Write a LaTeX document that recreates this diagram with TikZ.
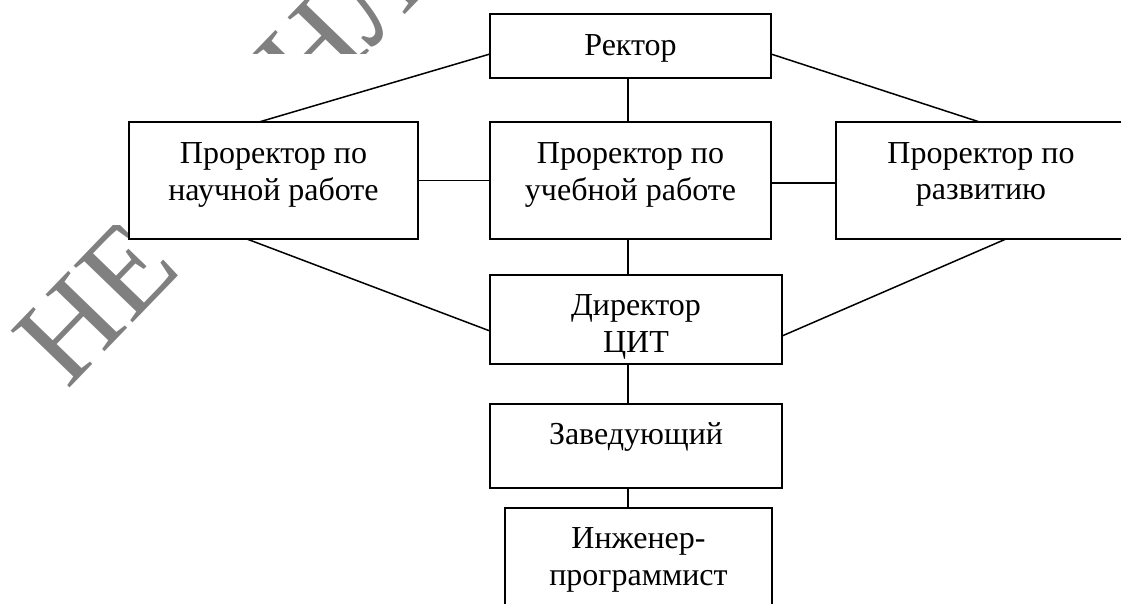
\documentclass[tikz,border=0pt]{standalone}
\usepackage{fontspec}
\setmainfont{Liberation Serif}
\usetikzlibrary{calc}
\definecolor{wmgrey}{gray}{0.5}
\tikzset{
  box/.style={draw=black, line width=2.2pt, fill=white, inner sep=0pt, outer sep=0pt},
  txt/.style={inner sep=0pt, outer sep=0pt, anchor=base, font=\fontsize{32}{37}\selectfont},
  conn/.style={draw=black, line width=1.5pt},
  wmark/.style={text=wmgrey, inner sep=0pt, outer sep=0pt, rotate=46, font=\fontsize{125}{130}\selectfont}
}
\begin{document}
\begin{tikzpicture}[x=1pt,y=-1pt]
\useasboundingbox (0,0) rectangle (1121,603);
\clip (0,0) rectangle (1121,603);
\fill[white] (0,0) rectangle (1121,603);
% watermark fragments
\begin{scope}
  \clip (0,225) rectangle (240,603);
  \node[wmark] (wm1) at (96,302) {НЕ};
\end{scope}
\begin{scope}
  \clip (240,0) rectangle (480,53);
  \node[wmark] (wm2) at (341,23) {НЛ};
\end{scope}
% boxes
\node[box, minimum width=281pt, minimum height=64pt] (rector) at (630.5,46) {};
\node[box, minimum width=289pt, minimum height=117pt] (nauch) at (273.5,180.5) {};
\node[box, minimum width=281pt, minimum height=117pt] (ucheb) at (630.5,180.5) {};
\node[box, minimum width=290pt, minimum height=117pt] (razv) at (981,180.5) {};
\node[box, minimum width=292pt, minimum height=89pt] (dir) at (636,319.5) {};
\node[box, minimum width=292pt, minimum height=84pt] (zav) at (636,446) {};
\node[box, minimum width=267pt, minimum height=132pt] (ing) at (638.5,574) {};
% texts
\node[txt] (t-rector) at (630.5,55) {Ректор};
\node[txt] (t-nauch1) at (273.5,163) {Проректор по};
\node[txt] (t-nauch2) at (273.5,200) {научной работе};
\node[txt] (t-ucheb1) at (630.5,163) {Проректор по};
\node[txt] (t-ucheb2) at (630.5,200) {учебной работе};
\node[txt] (t-razv1) at (981,163) {Проректор по};
\node[txt] (t-razv2) at (981,199) {развитию};
\node[txt] (t-dir1) at (636,315) {Директор};
\node[txt] (t-dir2) at (636,352) {ЦИТ};
\node[txt] (t-zav) at (636,444) {Заведующий};
\node[txt] (t-ing1) at (638.5,548) {Инженер-};
\node[txt] (t-ing2) at (638.5,585) {программист};
% connectors
\draw[conn] ([yshift=-8pt]rector.west) -- ($(nauch.north west)!0.45!(nauch.north east)$);
\draw[conn] ([yshift=-8pt]rector.east) -- ($(razv.north west)!0.495!(razv.north east)$);
\draw[conn] ([xshift=-2.5pt]rector.south) -- ([xshift=-2.5pt]ucheb.north);
\draw[conn] (nauch.east) -- (ucheb.west);
\draw[conn] ([yshift=-2.5pt]ucheb.east) -- ([yshift=-2.5pt]razv.west);
\draw[conn] ([xshift=-2.5pt]ucheb.south) -- ([xshift=-2.5pt]ucheb.south |- dir.north);
\draw[conn] ($(nauch.south west)!0.408!(nauch.south east)$) -- ([yshift=-11.5pt]dir.west);
\draw[conn] ($(razv.south west)!0.586!(razv.south east)$) -- ([yshift=-16.5pt]dir.east);
\draw[conn] ([xshift=-8pt]dir.south) -- ([xshift=-8pt]zav.north);
\draw[conn] ([xshift=-8pt]zav.south) -- ([xshift=-8pt]zav.south |- ing.north);
\end{tikzpicture}
\end{document}
